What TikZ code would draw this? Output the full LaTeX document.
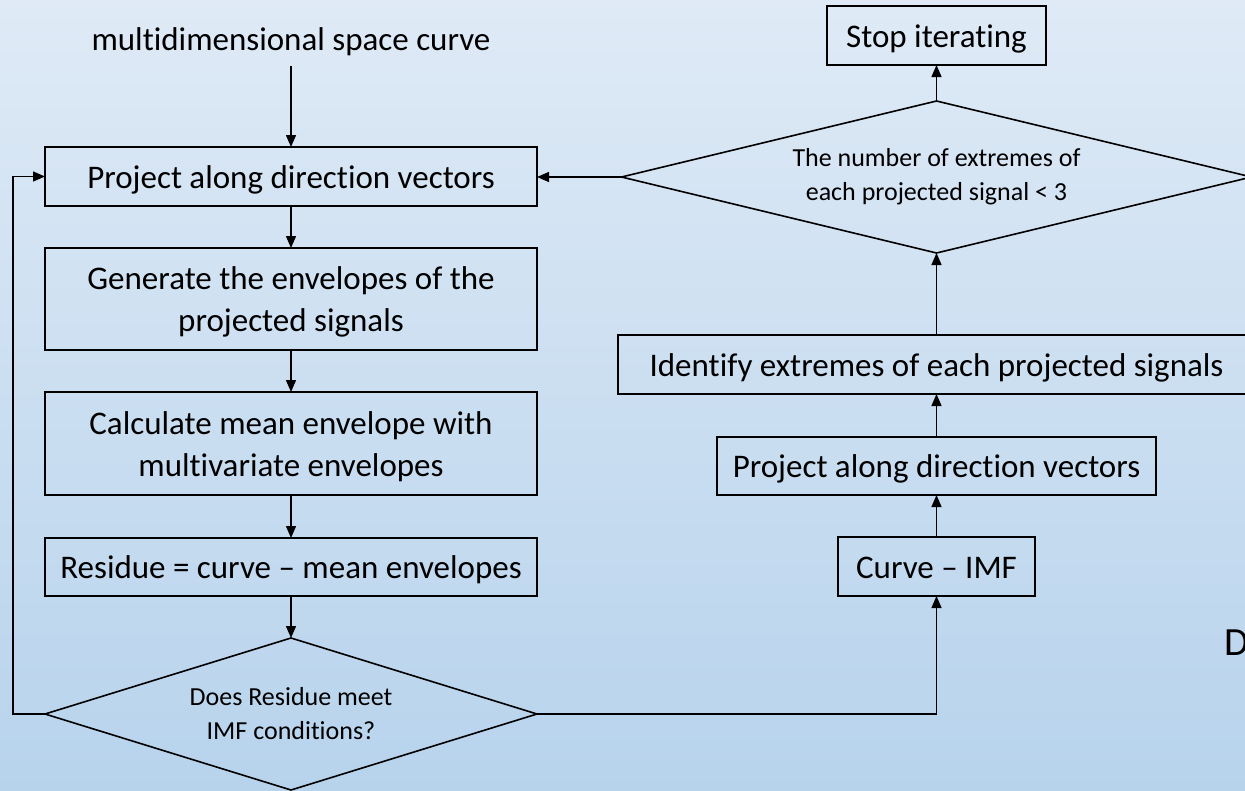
\documentclass[tikz,border=0pt]{standalone}
\usepackage{fontspec}
\setmainfont{Carlito}[Ligatures={NoCommon}]
\usetikzlibrary{arrows.meta,shapes.geometric}
\definecolor{bgtop}{RGB}{223,234,246}
\definecolor{bgbot}{RGB}{183,211,236}
% tall strut for the first line of the two-line boxes
\newcommand{\toprow}{\rule{0pt}{29pt}}
\begin{document}
\begin{tikzpicture}[x=1pt,y=-1pt,
  stepbox/.style={draw, line width=1.6pt, align=center, inner sep=0pt, outer sep=0pt,
    font=\fontsize{33}{42}\selectfont},
  oneline/.style={text height=25.7pt, text depth=2pt},
  decision/.style={draw, diamond, line width=1.6pt, align=center, inner sep=0pt, outer sep=0pt,
    font=\fontsize{26}{34}\selectfont},
  flow/.style={line width=1.4pt, -{Triangle[length=12pt,width=10pt]}}]
\useasboundingbox (0,0) rectangle (1245,790);
\clip (0,0) rectangle (1245,790);
\shade[top color=bgtop, bottom color=bgbot] (0,0) rectangle (1245,790);

% left column
\node[font=\fontsize{33}{40}\selectfont, inner sep=0pt, text height=25pt, text depth=2pt,
      minimum height=55pt] (src) at (291,38.5) {multidimensional space curve};
\node[stepbox, oneline, minimum width=492pt, minimum height=59pt] (b1) at (291,176.5) {Project along direction vectors};
\node[stepbox, minimum width=492pt, minimum height=102pt] (b2) at (291,299) {\toprow Generate the envelopes of the\\projected signals};
\node[stepbox, minimum width=492pt, minimum height=103pt] (b3) at (291,443.5) {\toprow Calculate mean envelope with\\multivariate envelopes};
\node[stepbox, oneline, minimum width=492pt, minimum height=58pt] (b4) at (291,567) {Residue = curve – mean envelopes};
\node[decision, shape aspect=3.2, minimum width=492pt, minimum height=152pt] (d1) at (291,714) {Does Residue meet\\IMF conditions?};

% right column
\node[stepbox, oneline, minimum width=219pt, minimum height=59pt] (stop) at (936.5,35.5) {Stop iterating};
\node[decision, shape aspect=4.1, minimum width=630pt, minimum height=152pt] (d2) at (936.5,177) {The number of extremes of\\each projected signal < 3};
\node[stepbox, oneline, minimum width=637pt, minimum height=59pt] (ident) at (936.5,364.5) {Identify extremes of each projected signals};
\node[stepbox, oneline, minimum width=439pt, minimum height=58pt] (proj) at (936.5,466) {Project along direction vectors};
\node[stepbox, oneline, minimum width=197pt, minimum height=59pt] (cimf) at (936.5,566.5) {Curve – IMF};

\node[font=\fontsize{40}{48}\selectfont, anchor=base west, inner sep=0pt] (dl) at (1224,655) {D};

% connectors
\draw[flow] (src.south) -- (b1.north);
\draw[flow] (b1) -- (b2);
\draw[flow] (b2) -- (b3);
\draw[flow] (b3) -- (b4);
\draw[flow] (b4) -- (d1);
\draw[flow] (d1.west) -- ++(-32,0) |- (b1.west);
\draw[flow] (d1.east) -| (cimf.south);
\draw[flow] (cimf) -- (proj);
\draw[flow] (proj) -- (ident);
\draw[flow] (ident) -- (d2);
\draw[flow] (d2) -- (stop);
\draw[flow] (d2.west) -- (d2.west -| b1.east);
\end{tikzpicture}
\end{document}
